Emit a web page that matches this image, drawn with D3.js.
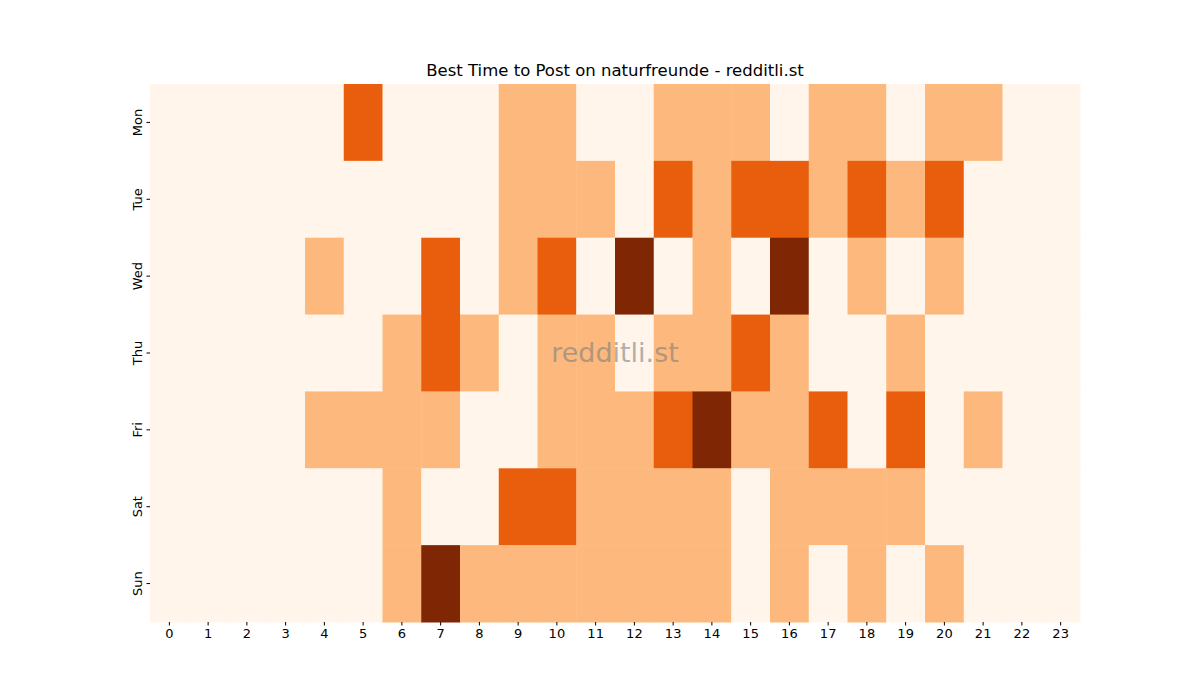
<!DOCTYPE html>
<html lang="en">
<head>
<meta charset="UTF-8">
<title>Best Time to Post</title>
<script src="https://d3js.org/d3.v7.min.js"></script>
<style>
  body { margin: 0; background: #fff; font-family: "DejaVu Sans", sans-serif; }
  .axis text { font-size: 13px; fill: #000; font-family: "DejaVu Sans", sans-serif; }
  .axis path { display: none; }
  .axis line { stroke: #000; }
</style>
</head>
<body>
<svg width="1200" height="700"></svg>
<script>
var days = ["Mon", "Tue", "Wed", "Thu", "Fri", "Sat", "Sun"];
var hours = d3.range(24);
// activity level per day, one value per hour 0..23
var mon = [0,0,0,0,0,2,0,0,0,1,1,0,0,1,1,1,0,1,1,0,1,1,0,0];
var tue = [0,0,0,0,0,0,0,0,0,1,1,1,0,2,1,2,2,1,2,1,2,0,0,0];
var wed = [0,0,0,0,1,0,0,2,0,1,2,0,3,0,1,0,3,0,1,0,1,0,0,0];
var thu = [0,0,0,0,0,0,1,2,1,0,1,1,0,1,1,2,1,0,0,1,0,0,0,0];
var fri = [0,0,0,0,1,1,1,1,0,0,1,1,1,2,3,1,1,2,0,2,0,1,0,0];
var sat = [0,0,0,0,0,0,1,0,0,2,2,1,1,1,1,0,1,1,1,1,0,0,0,0];
var sun = [0,0,0,0,0,0,1,3,1,1,1,1,1,1,1,0,1,0,1,0,1,0,0,0];
var rows = [mon, tue, wed, thu, fri, sat, sun];

var cells = [];
rows.forEach(function(r, i) {
  r.forEach(function(v, h) { cells.push({day: days[i], hour: h, value: v}); });
});

var svg = d3.select("svg");
var plotLeft = 150, plotRight = 1080, plotTop = 84, plotBottom = 622;

var x = d3.scaleBand().domain(hours).range([plotLeft, plotRight]);
var y = d3.scaleBand().domain(days).range([plotTop, plotBottom]);
var color = d3.scaleOrdinal().domain([0, 1, 2, 3])
  .range(["#fff5eb", "#fdb97d", "#e95e0d", "#7f2704"]);

svg.append("g").selectAll("rect")
  .data(cells)
  .enter().append("rect")
  .attr("x", function(d) { return x(d.hour); })
  .attr("y", function(d) { return y(d.day); })
  .attr("width", x.bandwidth() + 0.5)
  .attr("height", y.bandwidth() + 0.5)
  .attr("fill", function(d) { return color(d.value); });

svg.append("g")
  .attr("class", "axis")
  .attr("transform", "translate(0," + plotBottom + ")")
  .call(d3.axisBottom(x).tickSize(3.5).tickPadding(3.5));

var yAxis = svg.append("g")
  .attr("class", "axis")
  .attr("transform", "translate(" + plotLeft + ",0)")
  .call(d3.axisLeft(y).tickSize(3.5).tickPadding(3.5));
yAxis.selectAll("text")
  .attr("x", -8).attr("dy", "0")
  .attr("transform", "rotate(-90,-8,0)")
  .style("text-anchor", "middle");

svg.append("text")
  .attr("x", (plotLeft + plotRight) / 2)
  .attr("y", 76)
  .attr("text-anchor", "middle")
  .style("font-size", "16.5px")
  .text("Best Time to Post on naturfreunde - redditli.st");

svg.append("text")
  .attr("x", (plotLeft + plotRight) / 2)
  .attr("y", 362)
  .attr("text-anchor", "middle")
  .style("font-size", "27px")
  .style("fill", "#808080")
  .style("opacity", 0.6)
  .text("redditli.st");
</script>
</body>
</html>
